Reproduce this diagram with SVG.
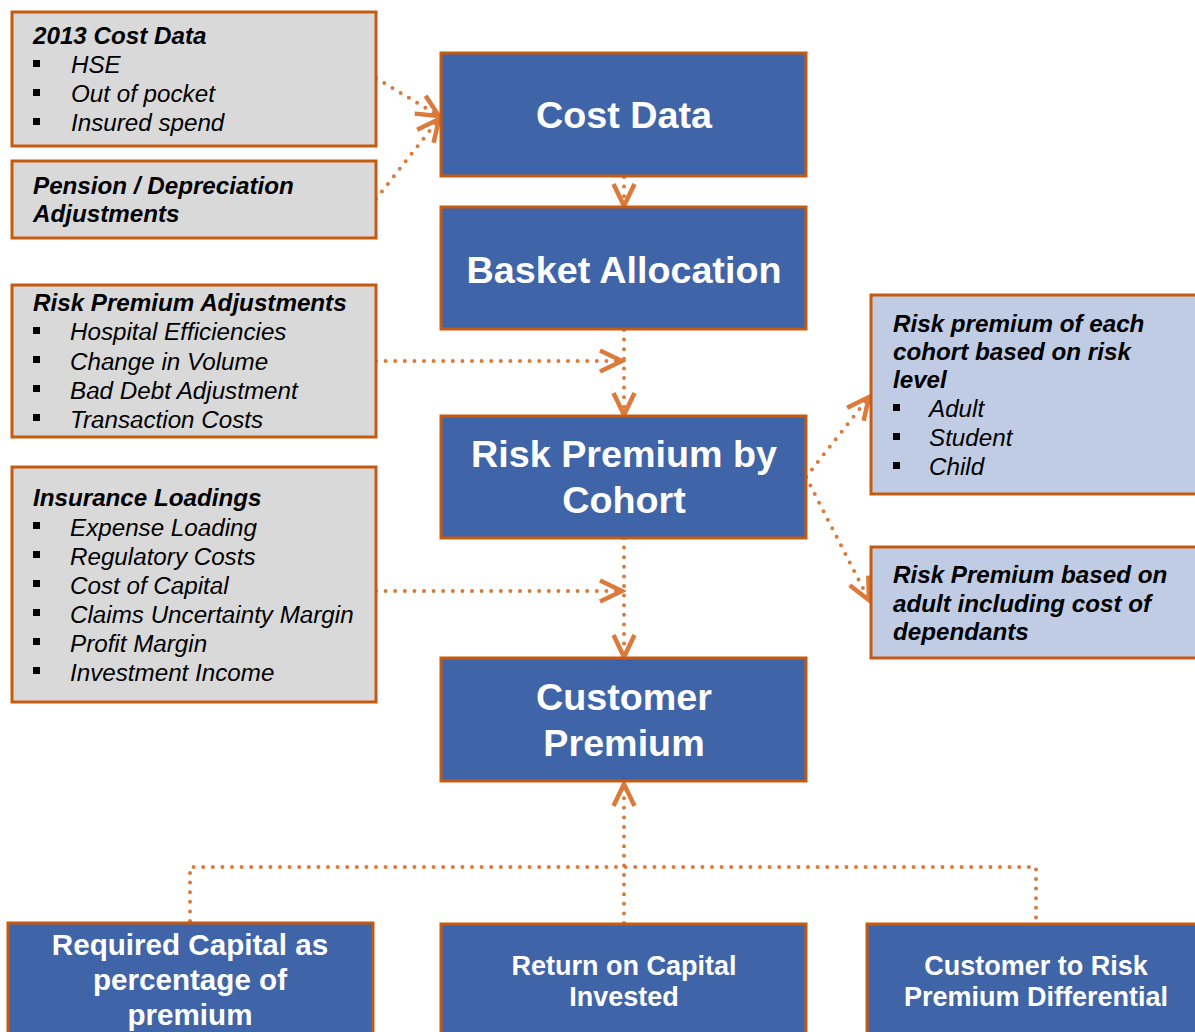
<svg xmlns="http://www.w3.org/2000/svg" width="1195" height="1032" viewBox="0 0 1195 1032">
  <style>
    .gray { fill: #D9D9D9; stroke: #C55A11; stroke-width: 3; }
    .blue { fill: #3F65A8; stroke: #C55A11; stroke-width: 3; }
    .pale { fill: #C0CCE3; stroke: #C55A11; stroke-width: 3; }
    .head { font-family: "Liberation Sans", Arial, sans-serif; font-size: 24.2px; font-weight: bold; font-style: italic; fill: #000; }
    .item { font-family: "Liberation Sans", Arial, sans-serif; font-size: 24.2px; font-style: italic; fill: #000; }
    .big { font-family: "Liberation Sans", Arial, sans-serif; font-size: 37.7px; font-weight: bold; fill: #fff; text-anchor: middle; }
    .mid { font-family: "Liberation Sans", Arial, sans-serif; font-size: 27px; font-weight: bold; fill: #fff; text-anchor: middle; }
    .bul { fill: #000; }
    .dots { fill: none; stroke: #DC7A3B; stroke-width: 4; stroke-linecap: round; stroke-dasharray: 0 9.6; }
  </style>
  <defs>
    <marker id="arrow" markerUnits="userSpaceOnUse" viewBox="-26 -14 30 28" refX="0" refY="0" markerWidth="30" markerHeight="28" orient="auto">
      <path d="M-22,-10.5 L0,0 L-22,10.5" fill="none" stroke="#DC7A3B" stroke-width="4.5" stroke-linejoin="miter"/>
    </marker>
  </defs>

  <!-- connectors -->
  <g id="connectors">
    <path class="dots" d="M376,78 L439,116" marker-end="url(#arrow)"/>
    <path class="dots" d="M376,199 L439,119" marker-end="url(#arrow)"/>
    <path class="dots" d="M624,177 L624,206" marker-end="url(#arrow)"/>
    <path class="dots" d="M624,330 L624,415" marker-end="url(#arrow)"/>
    <path class="dots" d="M376,361 L622,361" marker-end="url(#arrow)"/>
    <path class="dots" d="M624,538 L624,657" marker-end="url(#arrow)"/>
    <path class="dots" d="M376,591 L622,591" marker-end="url(#arrow)"/>
    <path class="dots" d="M806,477 L869,397" marker-end="url(#arrow)"/>
    <path class="dots" d="M806,477 L869,600" marker-end="url(#arrow)"/>
    <path class="dots" d="M624,923 L624,784" marker-end="url(#arrow)"/>
    <path class="dots" d="M190,921 L190,867 L1036,867 L1036,923"/>
  </g>

  <!-- left input boxes -->
  <g id="cost-data-2013">
    <rect class="gray" x="12" y="12" width="364" height="134"/>
    <text class="head" x="33" y="44">2013 Cost Data</text>
    <rect class="bul" x="33" y="60" width="7" height="7"/>
    <text class="item" x="71" y="73">HSE</text>
    <rect class="bul" x="33" y="89" width="7" height="7"/>
    <text class="item" x="71" y="102">Out of pocket</text>
    <rect class="bul" x="33" y="118" width="7" height="7"/>
    <text class="item" x="71" y="131">Insured spend</text>
  </g>
  <g id="pension">
    <rect class="gray" x="12" y="161" width="364" height="77"/>
    <text class="head" x="33" y="194">Pension / Depreciation</text>
    <text class="head" x="33" y="222">Adjustments</text>
  </g>
  <g id="risk-premium-adjustments">
    <rect class="gray" x="12" y="285" width="364" height="152"/>
    <text class="head" x="33" y="311">Risk Premium Adjustments</text>
    <rect class="bul" x="33" y="327" width="7" height="7"/>
    <text class="item" x="70" y="340">Hospital Efficiencies</text>
    <rect class="bul" x="33" y="356" width="7" height="7"/>
    <text class="item" x="70" y="370">Change in Volume</text>
    <rect class="bul" x="33" y="385" width="7" height="7"/>
    <text class="item" x="70" y="399">Bad Debt Adjustment</text>
    <rect class="bul" x="33" y="414" width="7" height="7"/>
    <text class="item" x="70" y="428">Transaction Costs</text>
  </g>
  <g id="insurance-loadings">
    <rect class="gray" x="12" y="467" width="364" height="235"/>
    <text class="head" x="33" y="506">Insurance Loadings</text>
    <rect class="bul" x="33" y="522" width="7" height="7"/>
    <text class="item" x="70" y="536">Expense Loading</text>
    <rect class="bul" x="33" y="551" width="7" height="7"/>
    <text class="item" x="70" y="565">Regulatory Costs</text>
    <rect class="bul" x="33" y="580" width="7" height="7"/>
    <text class="item" x="70" y="594">Cost of Capital</text>
    <rect class="bul" x="33" y="609" width="7" height="7"/>
    <text class="item" x="70" y="623">Claims Uncertainty Margin</text>
    <rect class="bul" x="33" y="638" width="7" height="7"/>
    <text class="item" x="70" y="652">Profit Margin</text>
    <rect class="bul" x="33" y="667" width="7" height="7"/>
    <text class="item" x="70" y="681">Investment Income</text>
  </g>

  <!-- main flow -->
  <g id="cost-data">
    <rect class="blue" x="441" y="53" width="365" height="123"/>
    <text class="big" x="624" y="128">Cost Data</text>
  </g>
  <g id="basket-allocation">
    <rect class="blue" x="441" y="207" width="365" height="122"/>
    <text class="big" x="624" y="283">Basket Allocation</text>
  </g>
  <g id="risk-premium-by-cohort">
    <rect class="blue" x="441" y="416" width="365" height="122"/>
    <text class="big" x="624" y="467">Risk Premium by</text>
    <text class="big" x="624" y="513">Cohort</text>
  </g>
  <g id="customer-premium">
    <rect class="blue" x="441" y="658" width="365" height="123"/>
    <text class="big" x="624" y="710">Customer</text>
    <text class="big" x="624" y="756">Premium</text>
  </g>

  <!-- cohort outputs -->
  <g id="cohort-risk-level">
    <rect class="pale" x="871" y="295" width="330" height="199"/>
    <text class="head" x="893" y="332">Risk premium of each</text>
    <text class="head" x="893" y="360">cohort based on risk</text>
    <text class="head" x="893" y="388">level</text>
    <rect class="bul" x="893" y="404" width="7" height="7"/>
    <text class="item" x="929" y="417">Adult</text>
    <rect class="bul" x="893" y="433" width="7" height="7"/>
    <text class="item" x="929" y="446">Student</text>
    <rect class="bul" x="893" y="462" width="7" height="7"/>
    <text class="item" x="929" y="475">Child</text>
  </g>
  <g id="adult-dependants">
    <rect class="pale" x="871" y="547" width="330" height="111"/>
    <text class="head" x="893" y="583">Risk Premium based on</text>
    <text class="head" x="893" y="612">adult including cost of</text>
    <text class="head" x="893" y="640">dependants</text>
  </g>

  <!-- capital measures -->
  <g id="required-capital">
    <rect class="blue" x="8" y="923" width="365" height="120"/>
    <text class="mid" x="190" y="955" style="font-size:29.6px">Required Capital as</text>
    <text class="mid" x="190" y="990" style="font-size:29.6px">percentage of</text>
    <text class="mid" x="190" y="1025" style="font-size:29.6px">premium</text>
  </g>
  <g id="return-on-capital">
    <rect class="blue" x="441" y="924" width="365" height="120"/>
    <text class="mid" x="624" y="975">Return on Capital</text>
    <text class="mid" x="624" y="1006">Invested</text>
  </g>
  <g id="premium-differential">
    <rect class="blue" x="867" y="924" width="340" height="120"/>
    <text class="mid" x="1036" y="975">Customer to Risk</text>
    <text class="mid" x="1036" y="1006">Premium Differential</text>
  </g>
</svg>
